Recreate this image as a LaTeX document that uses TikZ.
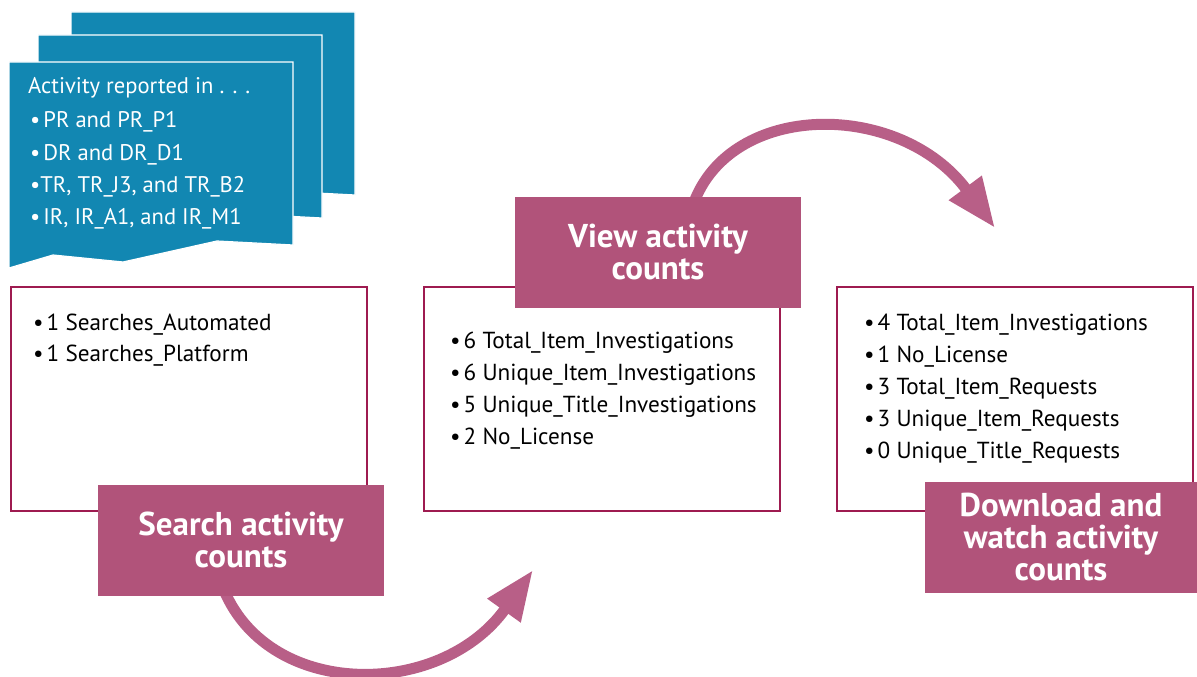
\documentclass[tikz,border=0pt]{standalone}
\usepackage{fontspec}
\setmainfont{PT Sans}
\usetikzlibrary{arrows.meta}
\definecolor{sheetblue}{RGB}{18,135,178}
\definecolor{labelpink}{RGB}{177,83,122}
\definecolor{arrowpink}{RGB}{184,95,135}
\definecolor{boxborder}{RGB}{158,27,80}
\newcommand{\bul}{\textbullet\hspace{3pt}}
\tikzset{
  sheet/.style={fill=sheetblue, draw=white, line width=1.2pt, line join=miter},
  countbox/.style={draw=boxborder, line width=2pt, fill=white, minimum width=356pt, minimum height=224pt, inner sep=0pt},
  tagbox/.style={fill=labelpink, minimum width=286pt, minimum height=111pt, inner sep=0pt, text=white, align=center, font=\bfseries\fontsize{33}{32}\selectfont},
  item/.style={anchor=base west, inner sep=0pt, font=\fontsize{23.2}{26}\selectfont},
  sheettext/.style={anchor=base west, inner sep=0pt, text=white, font=\fontsize{22.6}{26}\selectfont},
  flow/.style={draw=arrowpink, line width=11pt, -{Triangle[length=50pt,width=38pt,fill=arrowpink]}}
}
\newcommand{\sheetshape}[2]{%
  \path[sheet, shift={(#1,#2)}] (9,62) -- (293,62) -- (293,245) -- (217,241) -- (123,262) -- (53,255) -- (9,268) -- cycle;}
\begin{document}
\begin{tikzpicture}[x=1pt, y=-1pt]
\useasboundingbox (0,0) rectangle (1197,677);
% document stack
\sheetshape{62}{-50}
\sheetshape{29}{-27}
\sheetshape{0}{0}
\node[sheettext] (s0) at (28,93) {Activity reported in . . .};
\node[sheettext] (s1) at (30,128) {\bul PR and PR\_P1};
\node[sheettext] (s2) at (30,160) {\bul DR and DR\_D1};
\node[sheettext] (s3) at (30,192) {\textbullet TR, TR\_J3, and TR\_B2};
\node[sheettext] (s4) at (30,224) {\bul IR, IR\_A1, and IR\_M1};
% boxes
\node[countbox] (b1) at (189,399) {};
\node[countbox] (b2) at (602,399) {};
\node[countbox] (b3) at (1015,399) {};
\node[item] (b1a) at (33,330) {\bul 1 Searches\_Automated};
\node[item] (b1b) at (33,361) {\bul 1 Searches\_Platform};
\node[item] (b2a) at (450,348) {\bul 6 Total\_Item\_Investigations};
\node[item] (b2b) at (450,380) {\bul 6 Unique\_Item\_Investigations};
\node[item] (b2c) at (450,412) {\bul 5 Unique\_Title\_Investigations};
\node[item] (b2d) at (450,444) {\bul 2 No\_License};
\node[item] (b3a) at (864,330) {\bul 4 Total\_Item\_Investigations};
\node[item] (b3b) at (864,362) {\bul 1 No\_License};
\node[item] (b3c) at (864,394) {\bul 3 Total\_Item\_Requests};
\node[item] (b3d) at (864,426) {\bul 3 Unique\_Item\_Requests};
\node[item] (b3e) at (864,458) {\bul 0 Unique\_Title\_Requests};
% arrows
\coordinate (a1s) at (222,585);
\coordinate (a1e) at (533,570);
\coordinate (a2s) at (693,205);
\coordinate (a2e) at (995,228);
\draw[flow] (a1s) .. controls (265,700) and (440,700) .. (a1e);
\draw[flow] (a2s) .. controls (730,100) and (900,100) .. (a2e);
% labels
\node[tagbox] (t1) at (241,540) {Search activity\\counts};
\node[tagbox] (t2) at (658,252) {View activity\\counts};
\node[tagbox, minimum width=272pt] (t3) at (1061,537) {Download and\\watch activity\\counts};
\end{tikzpicture}
\end{document}
